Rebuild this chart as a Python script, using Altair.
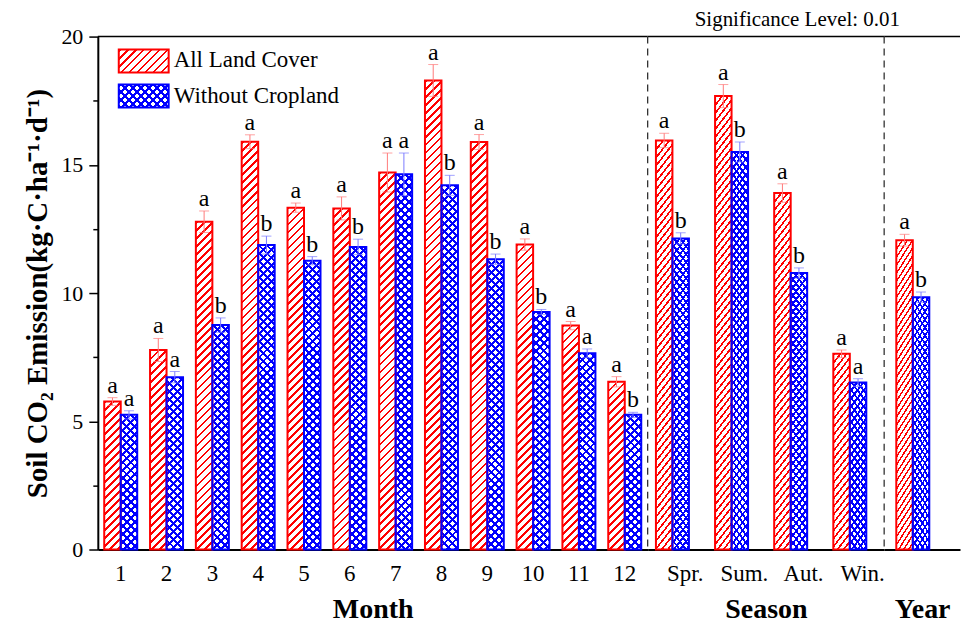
import altair as alt

# ---------------- data ----------------
series = ["All Land Cover", "Without Cropland"]

months = [str(i) for i in range(1, 13)]
month_all = [5.77, 7.78, 12.78, 15.90, 13.33, 13.30, 14.70, 18.29, 15.89, 11.89, 8.73, 6.54]
month_all_err = [0.15, 0.45, 0.42, 0.27, 0.18, 0.45, 0.76, 0.62, 0.29, 0.22, 0.16, 0.20]
month_wo = [5.25, 6.72, 8.75, 11.87, 11.26, 11.80, 14.63, 14.20, 11.32, 9.26, 7.65, 5.25]
month_wo_err = [0.16, 0.22, 0.28, 0.35, 0.16, 0.30, 0.83, 0.39, 0.20, 0.10, 0.17, 0.10]
month_all_sig = ["a"] * 12
month_wo_sig = ["a", "a", "b", "b", "b", "b", "a", "b", "b", "b", "a", "b"]

seasons = ["Spr.", "Sum.", "Aut.", "Win."]
season_all = [15.95, 17.68, 13.90, 7.63]
season_all_err = [0.28, 0.45, 0.36, 0.15]
season_wo = [12.13, 15.50, 10.78, 6.51]
season_wo_err = [0.22, 0.39, 0.20, 0.15]
season_all_sig = ["a", "a", "a", "a"]
season_wo_sig = ["b", "b", "b", "a"]

years = ["Year"]
year_all = [12.06]
year_all_err = [0.23]
year_wo = [9.84]
year_wo_err = [0.20]
year_all_sig = ["a"]
year_wo_sig = ["b"]

# ---------------- style ----------------
RED, BLUE = "#ff0000", "#0000ff"
RED_E, BLUE_E = "#ff7a7a", "#7a7aff"
FONT = "Liberation Serif"
PLOT_H = 514
Y_MAX = 20
W_MONTH, W_SEASON, W_YEAR = 551, 237, 76
PAD_M, PAD_S, PAD_Y = 0.28, 0.28, 0.32
PX = PLOT_H / Y_MAX


def hatch(w, h, period, frac, color, bg, direction):
    L = w + h
    k = L / (w * w + h * h)
    if direction == "/":
        x1, y1, x2, y2 = 0, 0, w * k, h * k
    else:
        x1, y1, x2, y2 = 0, 1, w * k, 1 - h * k
    stops = []
    s = 0.0
    while s < L:
        a = s / L
        b = min((s + frac * period) / L, 1.0)
        c = min((s + period) / L, 1.0)
        stops += [{"offset": a, "color": color}, {"offset": b, "color": color},
                  {"offset": b, "color": bg}, {"offset": c, "color": bg}]
        s += period
    return {"gradient": "linear", "x1": x1, "y1": y1, "x2": x2, "y2": y2, "stops": stops}


def red_fill(w, h):
    return hatch(w, h, 8.0, 0.34, RED, "#ffffff", "/"), "none"


def blue_fill(w, h):
    return (hatch(w, h, 8.0, 0.37, BLUE, "#ffffff", "/"),
            hatch(w, h, 8.0, 0.37, BLUE, "rgba(255,255,255,0)", "\\"))


def build_rows(cats, av, ae, asg, wv, we, wsg, width, pad):
    bw = width / len(cats) * (1 - pad) / 2
    out = []
    for i, c in enumerate(cats):
        for s, v, e, sig in ((series[0], av[i], ae[i], asg[i]), (series[1], wv[i], we[i], wsg[i])):
            if s == series[0]:
                g1, g2 = red_fill(bw, v * PX)
                col, ecol = RED, RED_E
            else:
                g1, g2 = blue_fill(bw, v * PX)
                col, ecol = BLUE, BLUE_E
            out.append({"cat": c, "series": s, "value": v, "lo": v - e, "hi": v + e,
                        "sig": sig, "g1": g1, "g2": g2, "col": col, "ecol": ecol})
    return out


yscale = alt.Scale(domain=[0, Y_MAX], nice=False, zero=True)
Y_TITLE = "Soil CO₂ Emission(kg·C·ha⁻¹·d⁻¹)"
y_axis = alt.Axis(
    title=Y_TITLE,
    titleFont=FONT, titleFontSize=29, titleFontWeight="bold", titleColor="black", titlePadding=8,
    values=[0, 2.5, 5, 7.5, 10, 12.5, 15, 17.5, 20],
    labelExpr="datum.value % 5 === 0 ? '' + datum.value : ''",
    tickSize={"condition": {"test": "datum.value % 5 !== 0", "value": 5}, "value": 9},
    tickColor="black", tickWidth=1.5, domainColor="black", domainWidth=2,
    labelFont=FONT, labelFontSize=22, labelColor="black", labelPadding=6, grid=False,
)


def panel(rows, cats, width, pad, x_title, show_y, extra, label_opacity=1, label_offset=0):
    base = alt.Chart(alt.Data(values=rows))
    x = alt.X("cat:N", sort=cats,
              scale=alt.Scale(domain=cats, paddingInner=pad, paddingOuter=pad / 2),
              axis=alt.Axis(title=x_title, labelAngle=0, ticks=False, tickSize=0, labelPadding=13,
                            labelFontSize=23, labelFont=FONT, labelColor="black",
                            labelOpacity=label_opacity, labelOffset=label_offset,
                            titleFont=FONT, titleFontSize=28, titleFontWeight="bold",
                            titleColor="black", titlePadding=10,
                            domainColor="black", domainWidth=2, grid=False))
    xo = alt.XOffset("series:N", sort=series,
                     scale=alt.Scale(domain=series, paddingInner=0, paddingOuter=0))
    ax = y_axis if show_y else None
    y_val = alt.Y("value:Q", scale=yscale, axis=ax, title=Y_TITLE)
    y_lo = alt.Y("lo:Q", scale=yscale, axis=ax, title=Y_TITLE)
    y_hi = alt.Y("hi:Q", scale=yscale, axis=ax, title=Y_TITLE)

    l1 = base.mark_bar(strokeWidth=0).encode(x=x, xOffset=xo, y=y_val,
                                             fill=alt.Fill("g1:N", scale=None))
    l2 = base.mark_bar(strokeWidth=0).encode(x=x, xOffset=xo, y=y_val,
                                             fill=alt.Fill("g2:N", scale=None))
    l3 = base.mark_bar(fillOpacity=0, strokeWidth=2).encode(
        x=x, xOffset=xo, y=y_val, stroke=alt.Stroke("col:N", scale=None))
    l4 = base.mark_rule(strokeWidth=1).encode(x=x, xOffset=xo, y=y_lo, y2="hi:Q",
                                              color=alt.Color("ecol:N", scale=None))
    l5 = base.mark_tick(size=10, thickness=1).encode(x=x, xOffset=xo, y=y_hi,
                                                     color=alt.Color("ecol:N", scale=None))
    l6 = base.mark_tick(size=10, thickness=1).encode(x=x, xOffset=xo, y=y_lo,
                                                     color=alt.Color("ecol:N", scale=None))
    l7 = base.mark_text(baseline="alphabetic", dy=-5, fontSize=24, font=FONT, color="black").encode(
        x=x, xOffset=xo, y=y_hi, text="sig:N")

    one = alt.Chart(alt.Data(values=[{}]))
    top = one.mark_rule(color="black", strokeWidth=1.5).encode(
        x=alt.value(0), x2=alt.value(width), y=alt.value(0))
    layers = [l1, l2, l3, l4, l5, l6, l7, top] + extra
    return alt.layer(*layers).properties(width=width, height=PLOT_H)


def dashed_sep():
    return alt.Chart(alt.Data(values=[{}])).mark_rule(
        color="#333333", strokeDash=[7, 5], strokeWidth=1.3).encode(
        x=alt.value(0), y=alt.value(0), y2=alt.value(PLOT_H))


def legend_entry(name, g1, g2, color, y_top, y_text):
    d = alt.Chart(alt.Data(values=[{"g1": g1, "g2": g2, "name": name}]))
    enc = dict(x=alt.value(21), x2=alt.value(71), y=alt.value(y_top), y2=alt.value(y_top + 23))
    a = d.mark_rect(strokeWidth=0).encode(fill=alt.Fill("g1:N", scale=None), **enc)
    b = d.mark_rect(strokeWidth=0).encode(fill=alt.Fill("g2:N", scale=None), **enc)
    c = d.mark_rect(fillOpacity=0, stroke=color, strokeWidth=2).encode(**enc)
    t = d.mark_text(align="left", baseline="alphabetic", fontSize=23, font=FONT, color="black").encode(
        x=alt.value(76), y=alt.value(y_text), text="name:N")
    return [a, b, c, t]


rg1, rg2 = red_fill(50, 23)
bg1, bg2 = blue_fill(50, 23)
legend = legend_entry(series[0], rg1, rg2, RED, 13, 30.5) + legend_entry(series[1], bg1, bg2, BLUE, 48, 66.5)

sig_text = alt.Chart(alt.Data(values=[{}])).mark_text(
    align="center", baseline="alphabetic", fontSize=21, font=FONT, color="black").encode(
    x=alt.value(150), y=alt.value(-11), text=alt.value("Significance Level: 0.01"))

p_month = panel(build_rows(months, month_all, month_all_err, month_all_sig,
                           month_wo, month_wo_err, month_wo_sig, W_MONTH, PAD_M),
                months, W_MONTH, PAD_M, "Month", True, legend)
p_season = panel(build_rows(seasons, season_all, season_all_err, season_all_sig,
                            season_wo, season_wo_err, season_wo_sig, W_SEASON, PAD_S),
                 seasons, W_SEASON, PAD_S, "Season", False, [dashed_sep(), sig_text], label_offset=8)
p_year = panel(build_rows(years, year_all, year_all_err, year_all_sig,
                          year_wo, year_wo_err, year_wo_sig, W_YEAR, PAD_Y),
               years, W_YEAR, PAD_Y, "Year", False, [dashed_sep()], label_opacity=0)

chart = alt.hconcat(p_month, p_season, p_year, spacing=0, bounds="flush").resolve_scale(
    x="independent").properties(
    padding={"left": 16, "top": 0, "right": 0, "bottom": 0},
    background="white",
).configure_view(stroke=None)

chart.save("out.html", embed_options={"renderer": "svg", "actions": False})
